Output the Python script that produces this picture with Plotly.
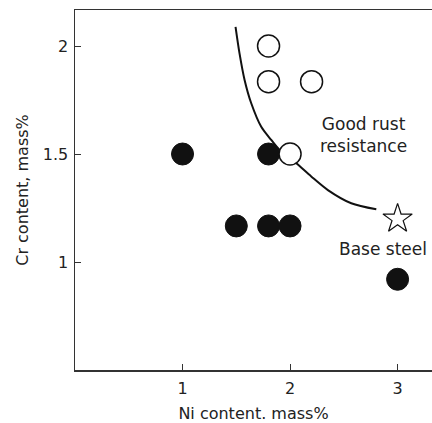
import plotly.graph_objects as go

# Data
poor_ni = [1.0, 1.8, 1.5, 1.8, 2.0, 3.0]
poor_cr = [1.5, 1.5, 1.167, 1.167, 1.167, 0.92]

good_ni = [1.8, 1.8, 2.2, 2.0]
good_cr = [2.0, 1.835, 1.835, 1.5]

base_ni = [3.0]
base_cr = [1.2]

boundary_ni = [1.493, 1.530, 1.577, 1.639, 1.732, 1.825, 1.902, 2.058, 2.197, 2.352, 2.569, 2.802]
boundary_cr = [2.089, 1.966, 1.843, 1.735, 1.626, 1.565, 1.519, 1.457, 1.396, 1.333, 1.272, 1.244]

x_ticks = [1, 2, 3]
y_ticks = [1, 1.5, 2]

FONT = "DejaVu Sans"
AX = "#333333"
TXT = "#222222"

fig = go.Figure()
fig.add_trace(go.Scatter(x=boundary_ni, y=boundary_cr, mode="lines",
                         line=dict(color="#111111", width=2, shape="spline", smoothing=0.8),
                         hoverinfo="skip", showlegend=False))
fig.add_trace(go.Scatter(x=poor_ni, y=poor_cr, mode="markers",
                         marker=dict(size=22, color="#111111", line=dict(color="#111111", width=1)),
                         showlegend=False))
fig.add_trace(go.Scatter(x=good_ni, y=good_cr, mode="markers",
                         marker=dict(size=22, color="white", line=dict(color="#111111", width=1.5)),
                         showlegend=False))
fig.add_trace(go.Scatter(x=base_ni, y=base_cr, mode="markers",
                         marker=dict(symbol="star-open", size=22, color="#111111", line=dict(color="#111111", width=1.2)),
                         showlegend=False))

fig.add_annotation(x=2.684, y=1.59, text="Good rust<br>resistance", showarrow=False,
                   font=dict(family=FONT, size=17, color=TXT), xanchor="center", yanchor="middle")
fig.add_annotation(x=2.86, y=1.058, text="Base steel", showarrow=False,
                   font=dict(family=FONT, size=17, color=TXT), xanchor="center", yanchor="middle")

axis_common = dict(showgrid=False, zeroline=False, showline=True, linecolor=AX, linewidth=1.5,
                   ticks="inside", ticklen=6, tickcolor=AX, tickwidth=1, automargin=False,
                   tickfont=dict(family=FONT, size=16, color=TXT))

fig.update_xaxes(range=[0, 3.32], tickvals=x_ticks, mirror=True, ticklabelstandoff=3,
                 title=dict(text="Ni content. mass%", font=dict(family=FONT, size=16, color=TXT), standoff=17),
                 **axis_common)
fig.update_yaxes(range=[0.5, 2.1667], tickvals=y_ticks, ticktext=["1", "1.5", "2"], ticklabelstandoff=2,
                 title=dict(text="Cr content, mass%", font=dict(family=FONT, size=16, color=TXT), standoff=10),
                 **axis_common)

fig.update_layout(width=432, height=423, margin=dict(l=75, r=0, t=10, b=53),
                  plot_bgcolor="white", paper_bgcolor="white", hovermode=False)

# remove the default page margin so the figure sits at the window's top-left corner
fig.write_html("out.html", config={"displayModeBar": False, "staticPlot": True},
               post_script="document.body.style.margin='0';document.body.style.overflow='hidden';")
